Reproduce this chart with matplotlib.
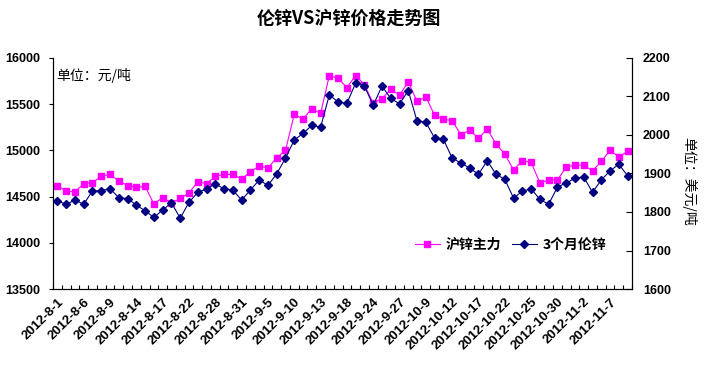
import numpy as np
import matplotlib
matplotlib.use("Agg")
import matplotlib.pyplot as plt
from matplotlib.lines import Line2D

plt.rcParams['font.family'] = ['Liberation Sans', 'Noto Sans CJK SC', 'DejaVu Sans']

# tick labels, one every third trading day
date_labels = ['2012-8-1', '2012-8-6', '2012-8-9', '2012-8-14', '2012-8-17', '2012-8-22',
               '2012-8-28', '2012-8-31', '2012-9-5', '2012-9-10', '2012-9-13', '2012-9-18',
               '2012-9-24', '2012-9-27', '2012-10-9', '2012-10-12', '2012-10-17', '2012-10-22',
               '2012-10-25', '2012-10-30', '2012-11-2', '2012-11-7']

# SHFE zinc main contract, yuan/ton (left axis)
shfe_zinc = [14620, 14560, 14550, 14640, 14650, 14720, 14740, 14670, 14620, 14600,
             14610, 14420, 14490, 14430, 14480, 14540, 14660, 14640, 14720, 14740,
             14740, 14690, 14770, 14830, 14810, 14920, 15000, 15390, 15340, 15450,
             15400, 15810, 15780, 15680, 15810, 15710, 15510, 15560, 15660, 15600,
             15740, 15530, 15580, 15380, 15340, 15320, 15170, 15220, 15130, 15230,
             15070, 14960, 14790, 14890, 14870, 14650, 14680, 14680, 14820, 14840,
             14840, 14780, 14880, 15000, 14930, 14990]

# LME 3-month zinc, usd/ton (right axis)
lme_zinc = [1829, 1820, 1831, 1820, 1855, 1855, 1861, 1837, 1835, 1818,
            1803, 1786, 1805, 1824, 1784, 1825, 1851, 1860, 1873, 1860,
            1857, 1831, 1857, 1883, 1869, 1899, 1940, 1987, 2004, 2025,
            2020, 2104, 2086, 2082, 2135, 2127, 2077, 2127, 2095, 2081,
            2115, 2036, 2033, 1992, 1989, 1940, 1927, 1914, 1898, 1933,
            1898, 1885, 1836, 1854, 1860, 1833, 1820, 1865, 1875, 1888,
            1891, 1851, 1883, 1907, 1924, 1894]

n = len(shfe_zinc)
x = np.arange(n)

fig = plt.figure(figsize=(7.11, 3.71), dpi=100)
ax = fig.add_axes([53/711, 82/371, 579/711, 231/371])
ax2 = ax.twinx()

pink = '#FF00FF'
navy = '#000080'

ax.plot(x, shfe_zinc, color=pink, lw=0.8, marker='s', ms=4.2, mec=pink, mfc=pink)
ax2.plot(x, lme_zinc, color=navy, lw=0.8, marker='D', ms=4.2, mec=navy, mfc=navy)

ax.set_xlim(-0.5, n - 0.5)
ax.set_ylim(13500, 16000)
ax.set_yticks(np.arange(13500, 16001, 500))
ax2.set_ylim(1600, 2200)
ax2.set_yticks(np.arange(1600, 2201, 100))

# category labels every 3 points, tick marks between categories
ax.set_xticks(np.arange(0, len(date_labels) * 3, 3))
ax.set_xticklabels(date_labels, rotation=45, ha='right', va='top',
                   rotation_mode='anchor', fontsize=9.5, fontweight='bold')
ax.set_xticks(np.arange(-0.5, n, 1), minor=True)
ax.tick_params(axis='x', which='major', length=0, pad=5)
ax.tick_params(axis='x', which='minor', length=3, direction='in', width=0.8)

for t in ax.get_yticklabels():
    t.set_fontweight('bold')
for t in ax2.get_yticklabels():
    t.set_fontweight('bold')
ax.tick_params(axis='y', labelsize=9, length=3, direction='out', width=0.8, pad=6)
ax2.tick_params(axis='y', labelsize=9, length=4, direction='in', width=0.8, pad=8)

for a in (ax, ax2):
    a.spines['top'].set_visible(False)
    a.spines['left'].set_linewidth(0.8)
    a.spines['right'].set_linewidth(0.8)
    a.spines['bottom'].set_linewidth(0.8)

fig.text(0.49, 0.951, '伦锌VS沪锌价格走势图', ha='center', va='center',
         fontsize=13, fontweight='bold', family=['Noto Sans CJK SC'])
ax.text(0.005, 0.926, '单位：元/吨', transform=ax.transAxes, ha='left', va='center',
        fontsize=10, family=['Noto Sans CJK SC'])
fig.text(0.969, 0.512, '单位：美元/吨', rotation=-90, ha='center', va='center',
         fontsize=10, family=['Noto Sans CJK SC'])

handles = [Line2D([], [], color=pink, lw=0.8, marker='s', ms=4.2),
           Line2D([], [], color=navy, lw=0.8, marker='D', ms=4.2)]
ax.legend(handles, ['沪锌主力', '3个月伦锌'], loc='center', bbox_to_anchor=(0.79, 0.19),
          ncol=2, frameon=False, handlelength=1.8, columnspacing=0.8, handletextpad=0.4,
          prop={'family': ['Noto Sans CJK SC'], 'weight': 'bold', 'size': 10})

fig.savefig('out.png', dpi=100, facecolor='white')
